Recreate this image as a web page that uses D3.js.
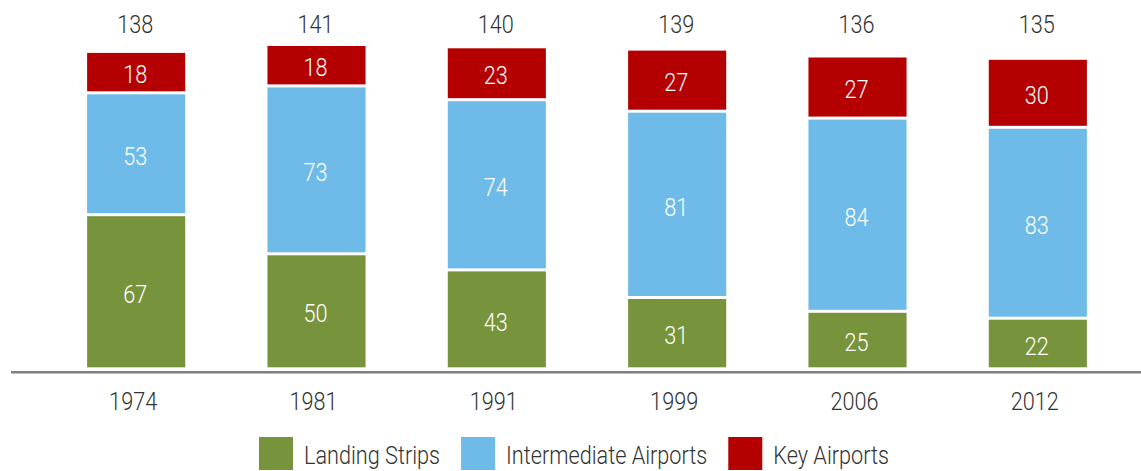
<!DOCTYPE html>
<html>
<head>
<meta charset="utf-8">
<script src="https://cdn.jsdelivr.net/npm/d3@7"></script>
<style>
  html, body { margin: 0; padding: 0; background: #fff; }
  svg { display: block; }
  text { font-family: Roboto, 'Liberation Sans', sans-serif; font-weight: 300; }
</style>
</head>
<body>
<script>
"use strict";

// data
var years = ['1974', '1981', '1991', '1999', '2006', '2012'];
var landing_strips = [67, 50, 43, 31, 25, 22];
var intermediate_airports = [53, 73, 74, 81, 84, 83];
var key_airports = [18, 18, 23, 27, 27, 30];
var series_names = ['Landing Strips', 'Intermediate Airports', 'Key Airports'];
var series_keys = ['landing', 'intermediate', 'key'];

var width = 1141,
    height = 471;
var font_size = 25.5;
var squeeze = 0.85;   // the reference face is a condensed one
var text_color = '#333333';
var colors = {landing: '#77933C', intermediate: '#6EBBE9', key: '#B40000'};
var seg_gap = 3;

var rows = years.map(function(y, i) {
  return {year: y, landing: landing_strips[i], intermediate: intermediate_airports[i], key: key_airports[i]};
});
var stacked = d3.stack().keys(series_keys)(rows);

var svg = d3.select('body')
  .append('svg')
  .attr('width', width)
  .attr('height', height);

var x = d3.scaleBand()
  .domain(years)
  .range([46, 1128])
  .paddingInner(0.456)
  .paddingOuter(0.228);

var y = d3.scaleLinear()
  .domain([0, 141])
  .range([368.8, 44.5]);

function place(px, py) {
  return 'translate(' + px + ',' + py + ') scale(' + squeeze + ',1)';
}

// stacked segments
var layers = svg.selectAll('g.layer')
  .data(stacked)
  .enter()
  .append('g')
  .attr('class', 'layer')
  .attr('fill', function(d) { return colors[d.key]; });

layers.selectAll('rect')
  .data(function(d) { return d; })
  .enter()
  .append('rect')
  .attr('x', function(d) { return x(d.data.year); })
  .attr('width', x.bandwidth())
  .attr('y', function(d) { return y(d[1]) + seg_gap/2; })
  .attr('height', function(d) { return y(d[0]) - y(d[1]) - seg_gap; });

// values inside the segments
layers.selectAll('text')
  .data(function(d) { return d; })
  .enter()
  .append('text')
  .attr('transform', function(d) {
    return place(x(d.data.year) + x.bandwidth()/2 - 1, (y(d[0]) + y(d[1]))/2 + 2);
  })
  .attr('dy', '0.36em')
  .attr('text-anchor', 'middle')
  .attr('font-size', font_size + 'px')
  .attr('fill', 'white')
  .text(function(d) { return d[1] - d[0]; });

// totals row above the bars
svg.append('g')
  .selectAll('text')
  .data(rows)
  .enter()
  .append('text')
  .attr('transform', function(d) { return place(x(d.year) + x.bandwidth()/2 - 1, 33); })
  .attr('text-anchor', 'middle')
  .attr('font-size', font_size + 'px')
  .attr('fill', text_color)
  .text(function(d) { return d.landing + d.intermediate + d.key; });

// baseline
svg.append('line')
  .attr('x1', 11)
  .attr('x2', width)
  .attr('y1', 372.3)
  .attr('y2', 372.3)
  .attr('stroke', '#7F7F7F')
  .attr('stroke-width', 2.5);

// category axis, no ticks or domain line
var x_axis = svg.append('g')
  .attr('transform', 'translate(-3,382)')
  .call(d3.axisBottom(x).tickSize(0).tickPadding(0));
x_axis.select('.domain').remove();
x_axis.selectAll('text')
  .attr('dy', null)
  .attr('y', null)
  .attr('transform', 'translate(0,28) scale(' + squeeze + ',1)')
  .attr('font-size', font_size + 'px')
  .attr('font-family', null)
  .attr('fill', text_color);

// legend
var legend = svg.append('g').attr('class', 'legend');
var lx = 259;
series_keys.forEach(function(k, i) {
  legend.append('rect')
    .attr('x', lx)
    .attr('y', 437)
    .attr('width', 34)
    .attr('height', 33)
    .attr('fill', colors[k]);
  var t = legend.append('text')
    .attr('transform', place(lx + 45, 463.5))
    .attr('font-size', font_size + 'px')
    .attr('fill', text_color)
    .text(series_names[i]);
  lx = lx + 45 + t.node().getComputedTextLength() * squeeze + 21;
});
</script>
</body>
</html>
